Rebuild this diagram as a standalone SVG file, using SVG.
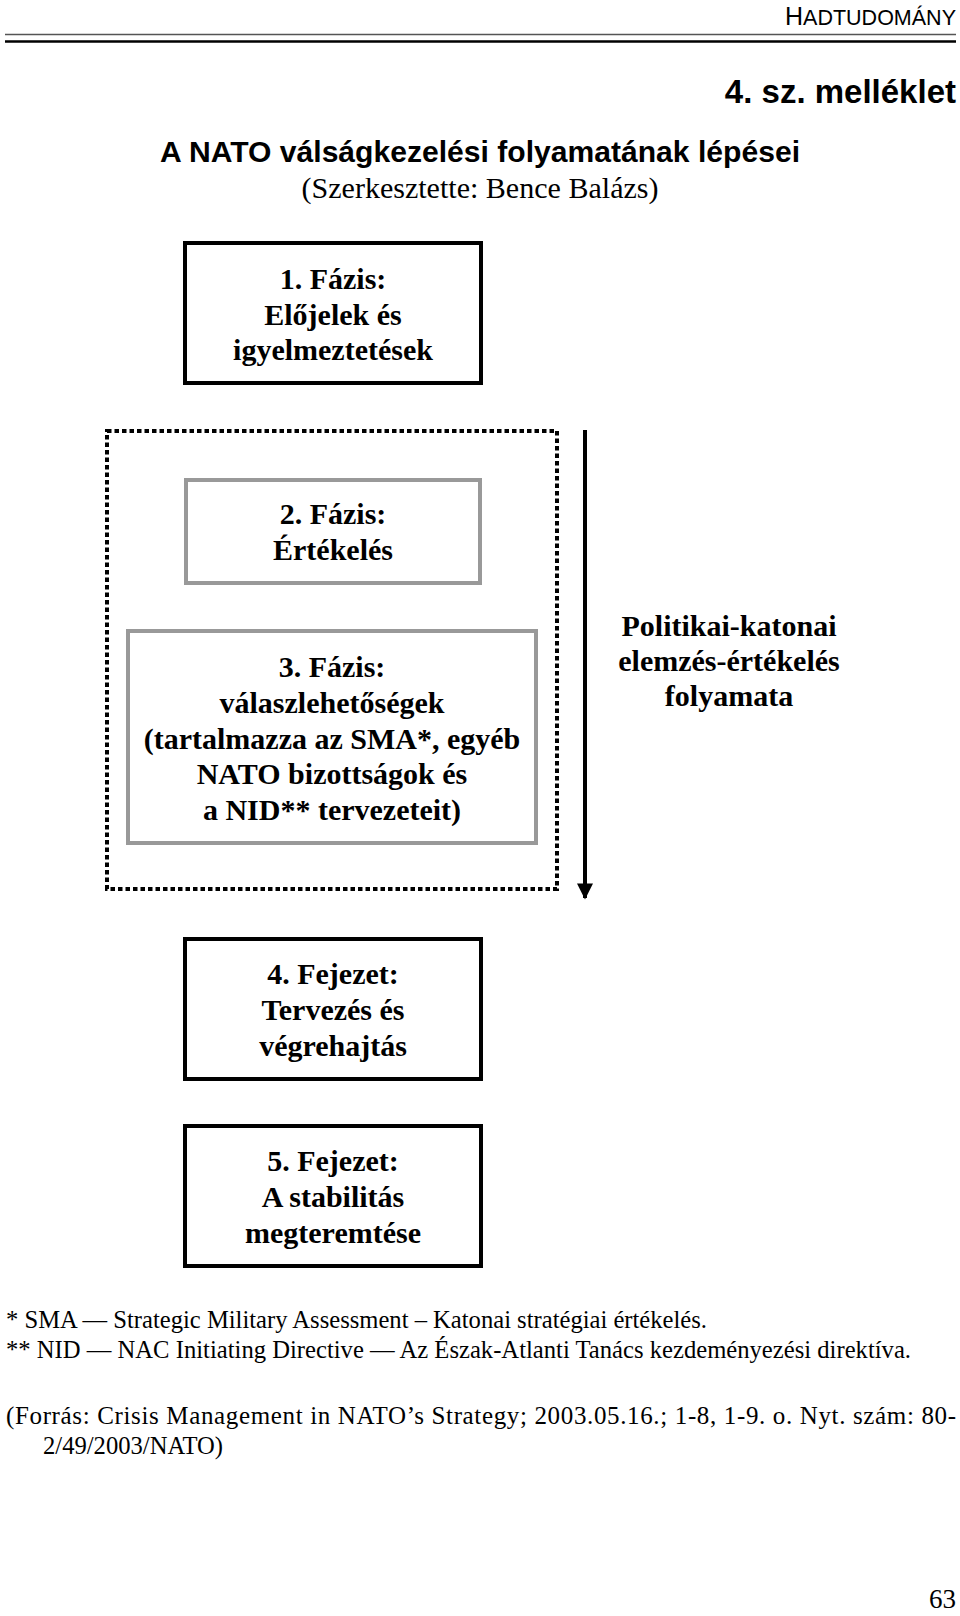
<svg xmlns="http://www.w3.org/2000/svg" width="960" height="1616" viewBox="0 0 960 1616">
<style>
.box{fill:#fff;stroke:#000;stroke-width:4}
.gbox{fill:#fff;stroke:#999;stroke-width:4}
.bt{font-family:"Liberation Serif",serif;font-weight:bold;font-size:30px;text-anchor:middle;fill:#000}
.fn{font-family:"Liberation Serif",serif;font-size:25px;fill:#000}
</style>
<defs>
<marker id="ah" viewBox="0 0 10 10" refX="9" refY="5" markerWidth="4.5" markerHeight="4" markerUnits="strokeWidth" orient="auto">
<path d="M0,0 L10,5 L0,10 z" fill="#000"/>
</marker>
</defs>
<rect width="960" height="1616" fill="#fff"/>
<g id="header">
<text x="956" y="25" text-anchor="end" font-family="Liberation Sans,sans-serif" font-size="25" fill="#000">H<tspan font-size="21.5">ADTUDOMÁNY</tspan></text>
<line x1="5" y1="34.5" x2="956" y2="34.5" stroke="#555" stroke-width="1.5"/>
<line x1="5" y1="41.5" x2="956" y2="41.5" stroke="#000" stroke-width="2.5"/>
<text x="956" y="103" text-anchor="end" font-family="Liberation Sans,sans-serif" font-weight="bold" font-size="33" fill="#000">4. sz. melléklet</text>
<text x="480" y="162" text-anchor="middle" font-family="Liberation Sans,sans-serif" font-weight="bold" font-size="29" fill="#000" textLength="640" lengthAdjust="spacingAndGlyphs">A NATO válságkezelési folyamatának lépései</text>
<text x="480" y="198" text-anchor="middle" font-family="Liberation Serif,serif" font-size="29" fill="#000" textLength="357" lengthAdjust="spacingAndGlyphs">(Szerkesztette: Bence Balázs)</text>
</g>
<g id="group-dotted">
<rect x="107" y="431" width="450" height="458" fill="none" stroke="#000" stroke-width="4" stroke-dasharray="4.5 3"/>
</g>
<g id="node1">
<rect class="box" x="185" y="243" width="296" height="140"/>
<text class="bt" x="333" y="289">1. Fázis:</text>
<text class="bt" x="333" y="325">Előjelek és</text>
<text class="bt" x="333" y="360">igyelmeztetések</text>
</g>
<g id="node2">
<rect class="gbox" x="186" y="480" width="294" height="103"/>
<text class="bt" x="333" y="524">2. Fázis:</text>
<text class="bt" x="333" y="560">Értékelés</text>
</g>
<g id="node3">
<rect class="gbox" x="128" y="631" width="408" height="212"/>
<text class="bt" x="332" y="677">3. Fázis:</text>
<text class="bt" x="332" y="713">válaszlehetőségek</text>
<text class="bt" x="332" y="749">(tartalmazza az SMA*, egyéb</text>
<text class="bt" x="332" y="784">NATO bizottságok és</text>
<text class="bt" x="332" y="820">a NID** tervezeteit)</text>
</g>
<g id="node4">
<rect class="box" x="185" y="939" width="296" height="140"/>
<text class="bt" x="333" y="984">4. Fejezet:</text>
<text class="bt" x="333" y="1020">Tervezés és</text>
<text class="bt" x="333" y="1056">végrehajtás</text>
</g>
<g id="node5">
<rect class="box" x="185" y="1126" width="296" height="140"/>
<text class="bt" x="333" y="1171">5. Fejezet:</text>
<text class="bt" x="333" y="1207">A stabilitás</text>
<text class="bt" x="333" y="1243">megteremtése</text>
</g>
<g id="connectors">
<line x1="585" y1="430" x2="585" y2="898" stroke="#000" stroke-width="4" marker-end="url(#ah)"/>
</g>
<g id="label-process">
<text class="bt" x="729" y="636">Politikai-katonai</text>
<text class="bt" x="729" y="671">elemzés-értékelés</text>
<text class="bt" x="729" y="706">folyamata</text>
</g>
<g id="footnotes">
<text class="fn" x="6" y="1328" textLength="701" lengthAdjust="spacingAndGlyphs">* SMA — Strategic Military Assessment – Katonai stratégiai értékelés.</text>
<text class="fn" x="6" y="1358" textLength="905" lengthAdjust="spacingAndGlyphs">** NID — NAC Initiating Directive — Az Észak-Atlanti Tanács kezdeményezési direktíva.</text>
<text class="fn" x="6" y="1424" textLength="950" lengthAdjust="spacing">(Forrás: Crisis Management in NATO’s Strategy; 2003.05.16.; 1-8, 1-9. o. Nyt. szám: 80-</text>
<text class="fn" x="43" y="1454" textLength="180" lengthAdjust="spacingAndGlyphs">2/49/2003/NATO)</text>
<text x="956" y="1608" text-anchor="end" font-family="Liberation Serif,serif" font-size="27" fill="#000">63</text>
</g>
</svg>
